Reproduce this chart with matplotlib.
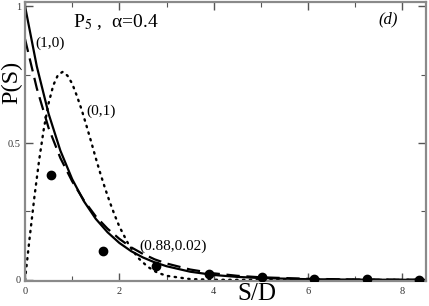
import matplotlib
matplotlib.use("Agg")
import matplotlib.pyplot as plt
from matplotlib.ticker import MultipleLocator

# Solid curve (1,0)
s_solid = [0, 0.25, 0.5, 0.75, 1.0, 1.25, 1.5, 1.75, 2.0, 2.25, 2.5, 2.75, 3.0, 3.5, 4.0, 4.5, 5.0, 6.0, 7.0, 8.5]
p_solid = [1.0, 0.78, 0.607, 0.472, 0.368, 0.287, 0.223, 0.174, 0.135, 0.105, 0.082, 0.064, 0.050, 0.030, 0.018, 0.011, 0.0067, 0.0025, 0.0009, 0.0002]

# Dashed curve (0.88,0.02)
s_dash = [0, 0.25, 0.5, 0.75, 1.0, 1.25, 1.5, 1.75, 2.0, 2.25, 2.5, 2.75, 3.0, 3.5, 4.0, 4.5, 5.0, 6.0, 7.0, 8.5]
p_dash = [0.88, 0.70, 0.555, 0.445, 0.36, 0.29, 0.232, 0.187, 0.150, 0.119, 0.095, 0.075, 0.060, 0.038, 0.024, 0.015, 0.0095, 0.004, 0.0015, 0.0004]

# Dotted curve (0,1)
s_dot = [0, 0.1, 0.2, 0.3, 0.4, 0.5, 0.6, 0.7, 0.8, 0.9, 1.0, 1.1, 1.2, 1.3, 1.4, 1.5, 1.6, 1.7, 1.8, 1.9, 2.0, 2.2, 2.4, 2.6, 2.8, 3.0, 3.5, 4.0, 5.0, 8.5]
p_dot = [0, 0.156, 0.304, 0.438, 0.553, 0.645, 0.711, 0.749, 0.760, 0.746, 0.717, 0.672, 0.622, 0.565, 0.506, 0.445, 0.387, 0.333, 0.283, 0.237, 0.195, 0.128, 0.080, 0.048, 0.027, 0.015, 0.003, 0.0005, 0.0, 0.0]

# Histogram points
s_pts = [0.55, 1.66, 2.78, 3.90, 5.02, 6.13, 7.24, 8.35]
p_pts = [0.383, 0.106, 0.049, 0.022, 0.010, 0.005, 0.002, 0.001]

xticks = [0, 2, 4, 6, 8]
yticks = [0, 0.5, 1]
ytick_labels = ["0", "0.5", "1"]

plt.rcParams['font.family'] = ['Liberation Serif', 'DejaVu Serif']
plt.rcParams['mathtext.fontset'] = 'stix'

fig = plt.figure(figsize=(4.29, 3.06), dpi=100)
ax = fig.add_axes([25/429, 1 - 281/306, 401/429, 279/306])

ax.plot(s_solid, p_solid, color='black', lw=1.6, solid_capstyle='butt')
ax.plot(s_dash, p_dash, color='black', lw=1.6, dashes=(6, 3))
ax.plot(s_dot, p_dot, color='black', lw=1.7, linestyle=(0, (0.6, 2.3)), dash_capstyle='round')
ax.plot(s_pts, p_pts, 'o', color='black', ms=6, zorder=5)

ax.set_xlim(0, 8.5)
ax.set_ylim(-0.004, 1.015)
ax.set_xticks(xticks)
ax.set_yticks(yticks)
ax.set_yticklabels(ytick_labels)
ax.xaxis.set_minor_locator(MultipleLocator(1))
ax.yaxis.set_minor_locator(MultipleLocator(0.25))
ax.tick_params(which='both', direction='in', top=True, right=True, labelsize=7.5,
               color='#555555', labelcolor='#333333')
ax.tick_params(which='major', length=6, width=1)
ax.tick_params(which='minor', length=3.5, width=0.8)
ax.tick_params(axis='x', pad=4)
ax.tick_params(axis='y', pad=3)
for sp in ax.spines.values():
    sp.set_color('#8a8a8a')
    sp.set_linewidth(1.6)

ax.text(1.02, 0.94, r"P$_5$ ,  α=0.4", fontsize=14, ha='left', va='center')
ax.text(7.7, 0.95, "(d)", fontsize=12, style='italic', ha='center', va='center')
ax.text(0.22, 0.865, "(1,0)", fontsize=11, ha='left', va='center')
ax.text(1.30, 0.615, "(0,1)", fontsize=11, ha='left', va='center')
ax.text(2.42, 0.122, "(0.88,0.02)", fontsize=11, ha='left', va='center')

fig.text(12/429, 1 - 82/306, "P(S)", rotation=90, fontsize=17.5, ha='center', va='center')
fig.text(257/429, 1 - 294/306, "S/D", fontsize=18, ha='center', va='center')

fig.savefig("out.png", dpi=100)
